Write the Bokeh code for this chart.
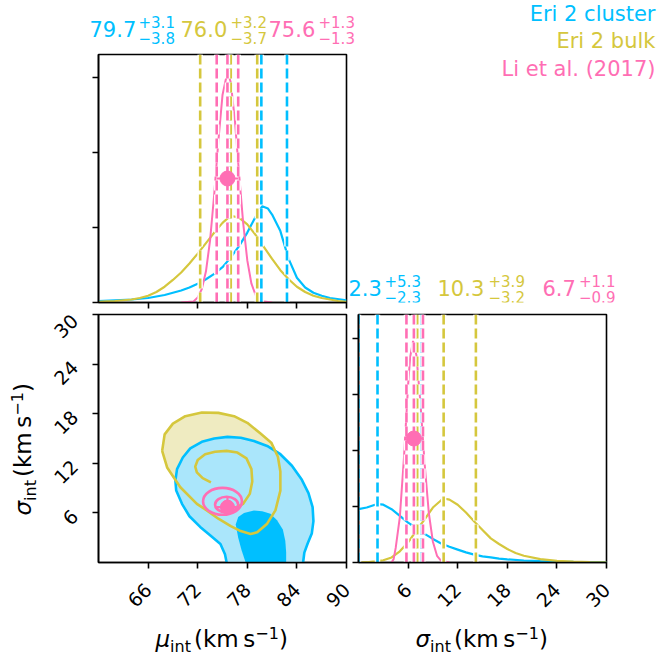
import math
from bokeh.plotting import figure
from bokeh.models import Range1d, FixedTicker, Label
from bokeh.layouts import column, row
from bokeh.embed import file_html
from bokeh.resources import INLINE

# ---------------- data ----------------
names = ["Eri 2 cluster", "Eri 2 bulk", "Li et al. (2017)"]
colors = ["#00BFFF", "#D5C73D", "#FF6EB4"]
light_blue = "#AAE6FB"
light_yellow = "#EFEBC1"

mu_med = [79.7, 76.0, 75.6]
mu_err_hi = [3.1, 3.2, 1.3]
mu_err_lo = [3.8, 3.7, 1.3]
sig_med = [2.3, 10.3, 6.7]
sig_err_hi = [5.3, 3.9, 1.1]
sig_err_lo = [2.3, 3.2, 0.9]

mu_ticks = [66, 72, 78, 84, 90]
sig_ticks = [6, 12, 18, 24, 30]
pdf_mu_ticks = [0.0, 0.1, 0.2, 0.3]
pdf_sig_ticks = [0.0, 0.1, 0.2, 0.3, 0.4]

# 1D posteriors of mu
blue_mu_x = [60, 62, 64, 66, 68, 70, 71, 72, 73, 74, 75, 76, 77, 78, 79, 79.8, 80.5, 81, 82, 83, 84, 85, 86, 87, 88, 90]
blue_mu_y = [0.002, 0.003, 0.004, 0.006, 0.010, 0.016, 0.020, 0.025, 0.031, 0.038, 0.047, 0.060, 0.075, 0.093, 0.114,
             0.128, 0.125, 0.117, 0.095, 0.058, 0.033, 0.020, 0.013, 0.009, 0.006, 0.003]
yellow_mu_x = [60, 61, 62, 63, 64, 65, 66, 67, 68, 69, 70, 71, 72, 73, 74, 75, 76, 77, 78, 79, 80, 81, 82, 83, 84, 85,
               86, 87, 88, 89, 90]
yellow_mu_y = [0.001, 0.0015, 0.002, 0.003, 0.004, 0.006, 0.009, 0.014, 0.021, 0.030, 0.040, 0.052, 0.065, 0.079,
               0.093, 0.106, 0.1155, 0.113, 0.104, 0.090, 0.074, 0.058, 0.043, 0.031, 0.021, 0.014, 0.009, 0.006,
               0.004, 0.002, 0.001]
pink_mu_x = [70, 71.5, 72, 72.5, 73, 73.5, 74, 74.5, 75, 75.6, 76, 76.5, 77, 77.5, 78, 78.5, 79, 79.5, 81]
pink_mu_y = [0.0, 0.0015, 0.0067, 0.018, 0.0415, 0.083, 0.144, 0.215, 0.276, 0.307, 0.293, 0.242, 0.172, 0.106,
             0.056, 0.025, 0.010, 0.002, 0.0]

# 1D posteriors of sigma
blue_sig_x = [0, 1, 2, 2.3, 3, 4, 5, 6, 7, 8, 9, 10, 11, 12, 13, 14, 15, 16, 17, 18, 20, 22, 24, 26, 28, 30]
blue_sig_y = [0.095, 0.098, 0.103, 0.104, 0.103, 0.095, 0.083, 0.071, 0.061, 0.051, 0.042, 0.034, 0.028, 0.023,
              0.018, 0.014, 0.011, 0.009, 0.007, 0.0055, 0.0036, 0.0025, 0.0018, 0.0012, 0.0008, 0.0005]
yellow_sig_x = [0, 1, 2, 3, 4, 5, 6, 7, 8, 9, 10, 10.3, 11, 12, 13, 14, 15, 16, 17, 18, 19, 20, 22, 24, 26, 28, 30]
yellow_sig_y = [0.0, 0.0005, 0.002, 0.004, 0.009, 0.020, 0.036, 0.057, 0.077, 0.098, 0.111, 0.114, 0.112, 0.103,
                0.089, 0.073, 0.058, 0.043, 0.033, 0.024, 0.017, 0.012, 0.006, 0.003, 0.0015, 0.0007, 0.0003]
pink_sig_x = [4.0, 4.25, 4.5, 5.0, 5.5, 6.0, 6.25, 6.6, 7.0, 7.5, 8.0, 8.5, 9.0, 9.5, 10.0, 11.0]
pink_sig_y = [0.0, 0.006, 0.026, 0.081, 0.187, 0.316, 0.366, 0.395, 0.370, 0.283, 0.176, 0.089, 0.037, 0.012,
              0.003, 0.0]

# 2D contours (mu, sigma)
blue_outer_mu = [75.5, 75.3, 74.75, 73.5, 72.3, 71.0, 70.1, 69.4, 69.3, 69.5, 70.2, 71.1, 72.5, 74.0, 75.6, 77.2,
                 78.8, 80.4, 82.0, 83.4, 84.6, 85.4, 85.9, 86.0, 85.8, 85.3, 84.9, 84.75]
blue_outer_sig = [0.0, 1.0, 2.25, 3.3, 4.3, 5.6, 7.1, 8.7, 9.9, 11.3, 12.7, 13.8, 14.6, 15.0, 15.2, 15.1, 14.7, 14.1,
                  13.1, 11.7, 10.0, 8.4, 6.7, 5.0, 3.5, 2.3, 1.2, 0.0]
blue_inner_mu = [77.8, 77.3, 76.9, 76.6, 76.9, 77.6, 78.8, 79.8, 80.8, 81.6, 82.3, 82.6, 82.7, 82.7]
blue_inner_sig = [0.0, 1.5, 3.0, 4.6, 5.5, 6.0, 6.3, 6.2, 5.9, 5.1, 4.0, 2.6, 1.2, 0.0]
yellow_outer_mu = [67.7, 68.0, 69.0, 70.5, 72.5, 74.5, 76.4, 78.0, 79.6, 80.9, 81.7, 82.0, 82.0, 81.4, 80.4, 79.2,
                   78.4, 77.2, 76.0, 74.5, 73.1, 71.9, 69.9, 68.3, 67.7]
yellow_outer_sig = [13.5, 15.5, 16.8, 17.7, 18.15, 18.1, 17.7, 16.9, 15.6, 14.5, 12.8, 11.0, 8.7, 6.3, 4.7, 3.65,
                    3.46, 3.8, 4.4, 5.3, 6.3, 7.1, 9.1, 11.5, 13.5]
yellow_inner_mu = [73.6, 72.6, 71.9, 71.7, 72.0, 72.9, 74.1, 75.5, 76.8, 77.9, 78.5, 78.6, 78.3, 77.5, 76.5]
yellow_inner_sig = [9.7, 10.2, 10.9, 11.6, 12.4, 13.1, 13.4, 13.5, 13.3, 12.6, 11.3, 9.8, 8.3, 7.1, 6.6]
pink_ell_mu = [75.0, 75.5]
pink_ell_sig = [7.4, 7.0]
pink_ell_w = [4.7, 2.8]
pink_ell_h = [3.25, 1.9]

MU_RANGE = (60, 90)
SIG_RANGE = (0, 30)
PDF_MU_TOP = 0.33
PDF_SIG_TOP = 0.442

PAGE = 659
FONT = "DejaVu Sans"
DASH = "10 4"
BASE_SHIFT = 0.35  # labels are anchored at their vertical centre; baseline lies this many em below


def style(p, xticks, yticks, xlabels=True, ylabels=True):
    p.grid.visible = False
    p.background_fill_color = "white"
    p.border_fill_color = "white"
    p.outline_line_color = "black"
    p.outline_line_width = 1.6
    for ax, ticks, show in ((p.xaxis, xticks, xlabels), (p.yaxis, yticks, ylabels)):
        ax.ticker = FixedTicker(ticks=ticks)
        ax.axis_line_color = "black"
        ax.axis_line_width = 1.6
        ax.major_tick_line_color = "black"
        ax.major_tick_line_width = 1.6
        ax.major_tick_out = 6
        ax.major_tick_in = 0
        ax.minor_tick_line_color = None
        ax.major_label_text_font = FONT
        ax.major_label_text_color = "black"
        if show:
            ax.major_label_text_font_size = "19px"
            ax.major_label_orientation = math.pi / 4
            ax.major_label_standoff = 18
        else:
            ax.major_label_overrides = {t: "" for t in ticks}
            ax.major_label_text_font_size = "1px"
            ax.major_label_standoff = 0


def strip(width, height, x0, y_top, top=0, bottom=0):
    """A text-only figure; its frame (aligned with row neighbours) is mapped to page pixels (y up)."""
    p = figure(width=width, height=height, x_range=Range1d(x0, x0 + width),
               y_range=Range1d(PAGE - (y_top + height - bottom), PAGE - (y_top + top)), title=None,
               output_backend="svg", toolbar_location=None, tools="", x_axis_type=None, y_axis_type=None,
               min_border_left=0, min_border_right=0, min_border_top=top, min_border_bottom=bottom)
    p.grid.visible = False
    p.outline_line_color = None
    p.background_fill_color = "white"
    p.border_fill_color = "white"
    return p


def add_text(p, x, y, text, color="black", size=21, align="left", italic=False, vertical=False):
    if vertical:
        ax, ay, ang = x - BASE_SHIFT * size, y, math.pi / 2
    else:
        ax, ay, ang = x, y - BASE_SHIFT * size, 0.0
    p.add_layout(Label(x=ax, y=PAGE - ay, text=text, text_color=color, text_font=FONT,
                       text_font_size=f"{size}px", text_align=align, text_baseline="alphabetic",
                       text_font_style="italic" if italic else "normal", angle=ang))


def dashed_lines(p, meds, his, los, top):
    for c, m, h, l in zip(colors, meds, his, los):
        xs = [m - l, m, m + h]
        p.segment(x0=xs, y0=[0] * 3, x1=xs, y1=[top] * 3, line_color="white", line_width=5.5, line_dash=DASH)
        p.segment(x0=xs, y0=[0] * 3, x1=xs, y1=[top] * 3, line_color=c, line_width=2.6, line_dash=DASH)


def value_title(p, i, meds, his, los, x_main, x_scr, base):
    add_text(p, x_main, base, f"{meds[i]:.1f}", colors[i], 21)
    add_text(p, x_scr, base - 9, f"+{his[i]:.1f}", colors[i], 15)
    add_text(p, x_scr, base + 6.5, f"\u2212{los[i]:.1f}", colors[i], 15)


# pieces of an axis label: symbol, subscript "int", "(km s", superscript "-1", ")"
label_pieces = [(23, 0, True), (16, 4.5, False), (23, 0, False), (16, -9, False), (23, 0, False)]
label_widths = [14.6, 23.9, 61.3, 23.6, 9.0]


def axis_label(p, sym, start, base, vertical=False):
    texts = [sym, "int", "(km\u2009s", "\u22121", ")"]
    pos = start
    for txt, (size, shift, it), w in zip(texts, label_pieces, label_widths):
        if vertical:
            add_text(p, base + shift, pos, txt, "black", size, italic=it, vertical=True)
            pos -= w
        else:
            add_text(p, pos, base + shift, txt, "black", size, italic=it)
            pos += w


# ---------------- top strip: mu titles + first legend lines ----------------
TOP_H = 52
tt = strip(PAGE, TOP_H, 0, 0)
for i, (xm, xs) in enumerate([(89, 138), (180, 230), (268, 318)]):
    value_title(tt, i, mu_med, mu_err_hi, mu_err_lo, xm, xs, 36)
add_text(tt, 655, 21, names[0], colors[0], 21, align="right")
add_text(tt, 655, 47.5, names[1], colors[1], 21, align="right")

# ---------------- top-left: mu pdf ----------------
p1 = figure(width=348, height=260, x_range=Range1d(*MU_RANGE), y_range=Range1d(0, PDF_MU_TOP),
            output_backend="svg", toolbar_location=None, tools="",
            min_border_left=98, min_border_right=2, min_border_top=2, min_border_bottom=10)
style(p1, mu_ticks, pdf_mu_ticks, xlabels=False, ylabels=False)
p1.line(blue_mu_x, blue_mu_y, line_color=colors[0], line_width=2.2)
p1.line(yellow_mu_x, yellow_mu_y, line_color=colors[1], line_width=2.2)
p1.line(pink_mu_x, pink_mu_y, line_color=colors[2], line_width=2.0)
dashed_lines(p1, mu_med, mu_err_hi, mu_err_lo, PDF_MU_TOP)
p1.segment(x0=[mu_med[2] - mu_err_lo[2]], y0=[PDF_MU_TOP / 2], x1=[mu_med[2] + mu_err_hi[2]], y1=[PDF_MU_TOP / 2],
           line_color=colors[2], line_width=2.2)
p1.scatter([mu_med[2]], [PDF_MU_TOP / 2], size=15, color=colors[2])

# ---------------- top-right: last legend line + sigma titles ----------------
p0 = strip(311, 260, 348, TOP_H, top=2, bottom=10)
add_text(p0, 655, 76, names[2], colors[2], 21, align="right")
for i, (xm, xs) in enumerate([(348, 384), (437, 488), (542, 578.5)]):
    value_title(p0, i, sig_med, sig_err_hi, sig_err_lo, xm, xs, 295)

# ---------------- left strip: sigma axis label ----------------
lt = strip(40, 313, 0, 312, top=2, bottom=63)
axis_label(lt, "\u03c3", 515, 31, vertical=True)

# ---------------- bottom-left: 2D ----------------
p2 = figure(width=312, height=313, x_range=Range1d(*MU_RANGE), y_range=Range1d(*SIG_RANGE),
            output_backend="svg", toolbar_location=None, tools="",
            min_border_left=58, min_border_right=6, min_border_top=2, min_border_bottom=63)
style(p2, mu_ticks, sig_ticks)
p2.patch(yellow_outer_mu, yellow_outer_sig, fill_color=light_yellow, line_color=None)
p2.patch(blue_outer_mu, blue_outer_sig, fill_color=light_blue, line_color=None)
p2.patch(blue_inner_mu, blue_inner_sig, fill_color=colors[0], line_color=None)
p2.line(blue_outer_mu, blue_outer_sig, line_color=colors[0], line_width=2.6)
p2.line(yellow_outer_mu, yellow_outer_sig, line_color=colors[1], line_width=2.6)
p2.line(yellow_inner_mu, yellow_inner_sig, line_color=colors[1], line_width=2.6)
p2.ellipse(pink_ell_mu, pink_ell_sig, width=pink_ell_w, height=pink_ell_h, fill_color=None,
           line_color=colors[2], line_width=2.6)
p2.segment(x0=[mu_med[2] - mu_err_lo[2]], y0=[sig_med[2]], x1=[mu_med[2] + mu_err_hi[2]], y1=[sig_med[2]],
           line_color=colors[2], line_width=2.2)
p2.segment(x0=[mu_med[2]], y0=[sig_med[2] - sig_err_lo[2]], x1=[mu_med[2]], y1=[sig_med[2] + sig_err_hi[2]],
           line_color=colors[2], line_width=2.2)
p2.scatter([mu_med[2]], [sig_med[2]], size=14, color=colors[2])

# ---------------- bottom-right: sigma pdf ----------------
p3 = figure(width=307, height=313, x_range=Range1d(*SIG_RANGE), y_range=Range1d(0, PDF_SIG_TOP),
            output_backend="svg", toolbar_location=None, tools="",
            min_border_left=6, min_border_right=53, min_border_top=2, min_border_bottom=63)
style(p3, sig_ticks, pdf_sig_ticks, ylabels=False)
p3.line(blue_sig_x, blue_sig_y, line_color=colors[0], line_width=2.2)
p3.line(yellow_sig_x, yellow_sig_y, line_color=colors[1], line_width=2.2)
p3.line(pink_sig_x, pink_sig_y, line_color=colors[2], line_width=2.0)
dashed_lines(p3, sig_med, sig_err_hi, sig_err_lo, PDF_SIG_TOP)
p3.segment(x0=[sig_med[2] - sig_err_lo[2]], y0=[PDF_SIG_TOP / 2], x1=[sig_med[2] + sig_err_hi[2]],
           y1=[PDF_SIG_TOP / 2], line_color=colors[2], line_width=2.2)
p3.scatter([sig_med[2]], [PDF_SIG_TOP / 2], size=15, color=colors[2])

# ---------------- bottom strip: x axis labels ----------------
bb = strip(PAGE, 34, 0, 625)
axis_label(bb, "\u03bc", 155, 647)
axis_label(bb, "\u03c3", 415, 647)

layout = column(tt, row(p1, p0), row(lt, p2, p3), bb)
open("out.html", "w").write(file_html(layout, INLINE))
